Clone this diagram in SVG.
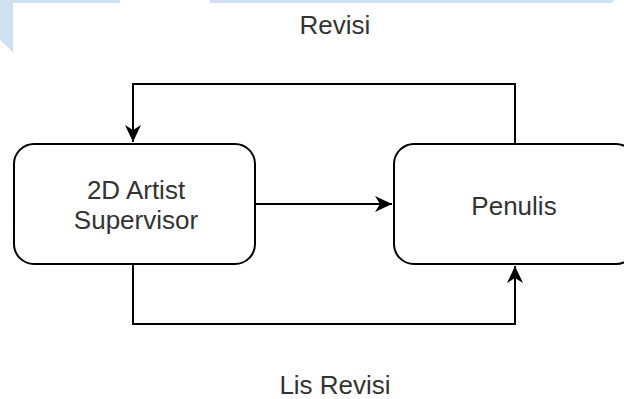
<svg xmlns="http://www.w3.org/2000/svg" width="624" height="399" viewBox="0 0 624 399">
  <style>
    .box { fill: #ffffff; stroke: #000000; stroke-width: 2; }
    .edge { fill: none; stroke: #000000; stroke-width: 2; }
    .lbl { font-family: "Liberation Sans", Arial, sans-serif; font-size: 26px; fill: #333333; text-anchor: middle; }
    .deco { fill: #cfe0f0; }
  </style>
  <defs>
    <marker id="arrow" markerUnits="userSpaceOnUse" markerWidth="20" markerHeight="20" viewBox="-18 -10 20 20" refX="0" refY="0" orient="auto">
      <path d="M0,0 L-17,-8 L-12,0 L-17,8 Z" fill="#000000"/>
    </marker>
  </defs>
  <rect width="624" height="399" fill="#ffffff"/>
  <g id="decoration">
    <polygon class="deco" points="0,0 120,0 120,3 13,3 13,52 0,40"/>
    <polygon class="deco" points="210,0 614,0 612,3 210,3"/>
  </g>
  <g id="connectors">
    <path class="edge" d="M515,144 V84 H133 V142" marker-end="url(#arrow)"/>
    <path class="edge" d="M255,204 H392" marker-end="url(#arrow)"/>
    <path class="edge" d="M133,264 V324 H515 V266" marker-end="url(#arrow)"/>
  </g>
  <g id="node-supervisor">
    <rect class="box" x="14" y="144" width="241" height="120" rx="20" ry="20"/>
    <text class="lbl" x="136" y="199">2D Artist</text>
    <text class="lbl" x="136" y="229">Supervisor</text>
  </g>
  <g id="node-penulis">
    <rect class="box" x="394" y="144" width="242" height="120" rx="20" ry="20"/>
    <text class="lbl" x="514" y="215">Penulis</text>
  </g>
  <g id="labels">
    <text class="lbl" x="335" y="34">Revisi</text>
    <text class="lbl" x="335" y="394">Lis Revisi</text>
  </g>
</svg>
